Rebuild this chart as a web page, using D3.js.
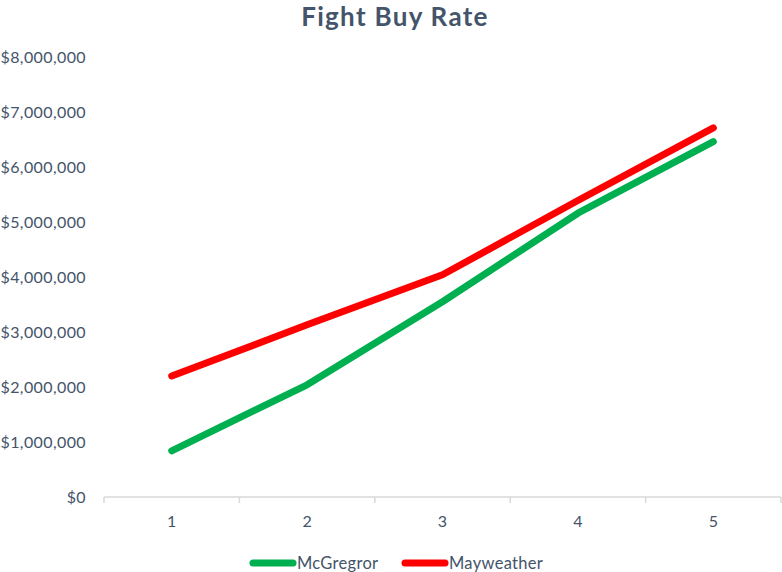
<!DOCTYPE html>
<html>
<head>
<meta charset="utf-8">
<script src="https://cdn.jsdelivr.net/npm/d3@7"></script>
<style>
  body { margin: 0; background: #fff; }
  text { font-family: Lato, "Open Sans", sans-serif; }
</style>
</head>
<body>
<div id="chart"></div>
<script>
const categories = ['1', '2', '3', '4', '5'];
const mcgregor = [840000, 2040000, 3550000, 5160000, 6460000];
const mayweather = [2200000, 3130000, 4040000, 5390000, 6710000];
const yTicks = [0, 1000000, 2000000, 3000000, 4000000, 5000000, 6000000, 7000000, 8000000];

const width = 782, height = 572;
const margin = { top: 57, right: 1, bottom: 75, left: 104 };
const textColor = '#44546A';

const series = [
  { name: 'McGregror', values: mcgregor, color: '#00B050' },
  { name: 'Mayweather', values: mayweather, color: '#FF0000' }
];

const svg = d3.select('#chart').append('svg').attr('width', width).attr('height', height);

const x = d3.scaleBand().domain(categories).range([margin.left, width - margin.right]);
const y = d3.scaleLinear().domain([0, 8000000]).range([height - margin.bottom, margin.top]);

svg.append('text')
  .attr('x', 395).attr('y', 26)
  .attr('text-anchor', 'middle')
  .attr('font-size', 26).attr('font-weight', 'bold')
  .attr('letter-spacing', 1.3)
  .attr('fill', textColor)
  .text('Fight Buy Rate');

// y labels (no gridlines, no axis line)
const yAxis = svg.append('g')
  .attr('transform', `translate(${margin.left - 18},0)`)
  .call(d3.axisLeft(y).tickValues(yTicks).tickSize(0).tickPadding(0)
    .tickFormat(d => '$' + d3.format(',')(d)));
yAxis.select('.domain').remove();
yAxis.selectAll('text').attr('font-size', 16).attr('fill', textColor)
  .attr('font-family', 'Lato, sans-serif').attr('letter-spacing', 0.4);

// x axis with ticks between categories
const xAxis = svg.append('g').attr('transform', `translate(0,${y(0)})`);
xAxis.append('line')
  .attr('x1', x.range()[0]).attr('x2', x.range()[1])
  .attr('stroke', '#D9D9D9').attr('stroke-width', 1.5);
const bounds = categories.map(c => x(c)).concat([x.range()[1]]);
xAxis.selectAll('line.tick')
  .data(bounds)
  .enter().append('line')
  .attr('class', 'tick')
  .attr('x1', d => d).attr('x2', d => d)
  .attr('y1', 0).attr('y2', 6)
  .attr('stroke', '#D9D9D9').attr('stroke-width', 1.5);
xAxis.selectAll('text')
  .data(categories)
  .enter().append('text')
  .attr('x', d => x(d) + x.bandwidth() / 2)
  .attr('y', 30)
  .attr('text-anchor', 'middle')
  .attr('font-size', 16).attr('fill', textColor)
  .text(d => d);

const line = d3.line()
  .x((d, i) => x(categories[i]) + x.bandwidth() / 2)
  .y(d => y(d));

svg.selectAll('path.series')
  .data(series)
  .enter().append('path')
  .attr('class', 'series')
  .attr('d', d => line(d.values))
  .attr('fill', 'none')
  .attr('stroke', d => d.color)
  .attr('stroke-width', 7)
  .attr('stroke-linecap', 'round')
  .attr('stroke-linejoin', 'round');

// legend
const legendX = [253, 405];
const legend = svg.selectAll('g.legend')
  .data(series)
  .enter().append('g')
  .attr('class', 'legend')
  .attr('transform', (d, i) => `translate(${legendX[i]},563)`);
legend.append('line')
  .attr('x1', 0).attr('x2', 40)
  .attr('stroke', d => d.color)
  .attr('stroke-width', 7)
  .attr('stroke-linecap', 'round');
legend.append('text')
  .attr('x', 44).attr('y', 6)
  .attr('font-size', 16.5).attr('fill', textColor)
  .attr('letter-spacing', 0.3)
  .text(d => d.name);
</script>
</body>
</html>
